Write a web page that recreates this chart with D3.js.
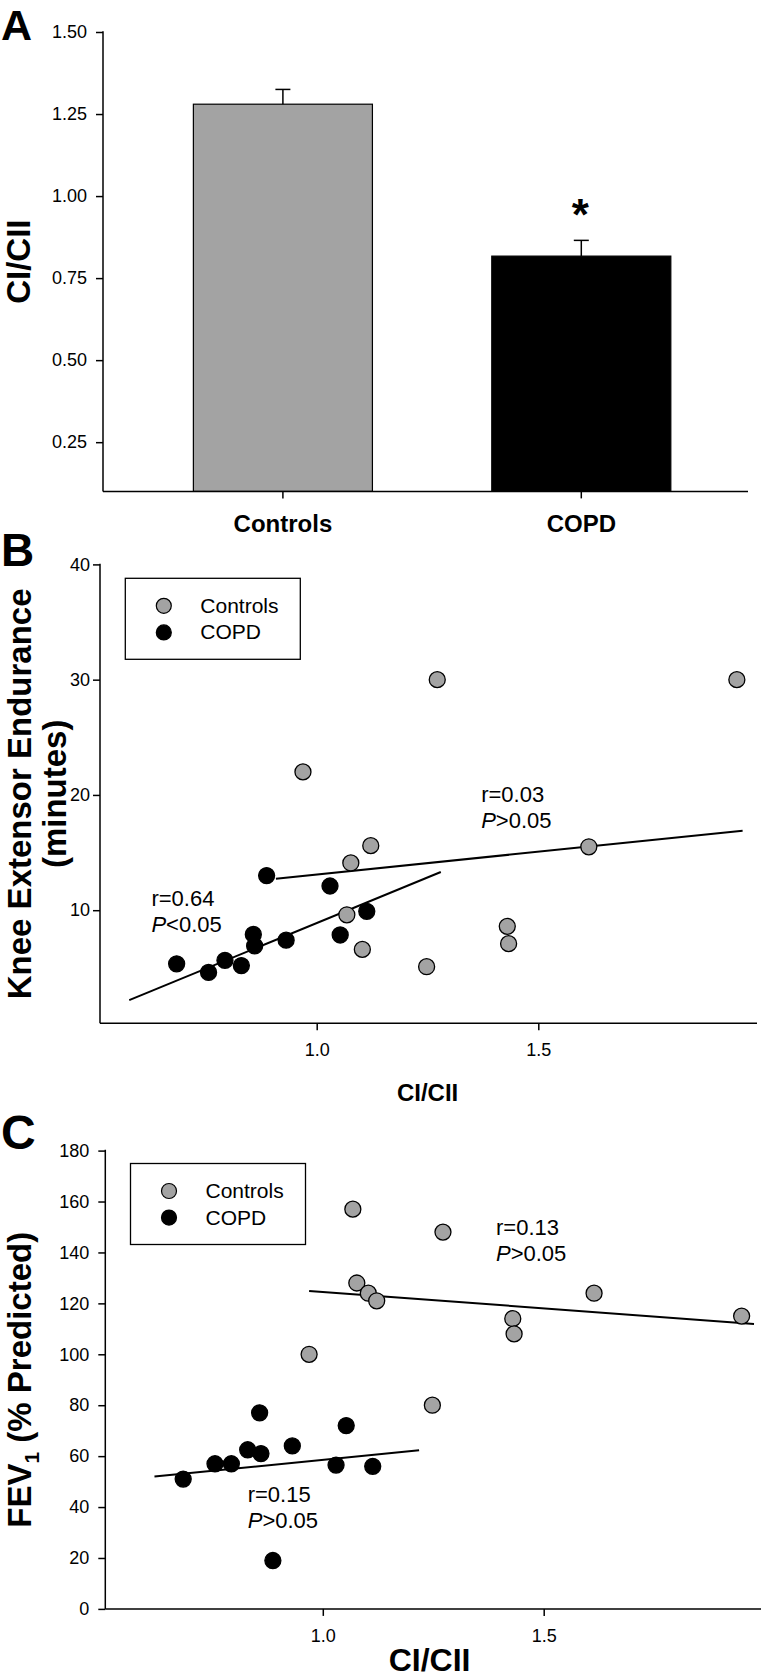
<!DOCTYPE html>
<html><head><meta charset="utf-8">
<script src="https://cdn.jsdelivr.net/npm/d3@7"></script>
<style>
body{margin:0;background:#fff}
svg{display:block}
text{font-family:"Liberation Sans",Arial,Helvetica,sans-serif;fill:#000}
</style>
</head><body>
<svg id="chart" width="761" height="1679"></svg>
<script>
// ---------- Panel A data ----------
const groups = ["Controls", "COPD"];
const ciMean = [1.28, 0.817];
const ciSE = [0.045, 0.048];
const ciTicks = [0.25, 0.50, 0.75, 1.00, 1.25, 1.50];

// ---------- Panels B & C data ----------
const ctrlCI        = [0.969, 1.068, 1.077, 1.103, 1.122, 1.248, 1.272, 1.430, 1.433, 1.614, 1.948];
const ctrlEndurance = [22.0, 9.6, 14.1, 6.6, 15.6, 5.1, 30.0, 8.6, 7.1, 15.5, 30.0];
const ctrlFEV1      = [100, 157, 128, 124, 121, 80, 148, 114, 108, 124, 115];

const copdCI        = [0.684, 0.756, 0.793, 0.830, 0.857, 0.860, 0.887, 0.931, 1.030, 1.053, 1.113];
const copdEndurance = [5.35, 4.6, 5.65, 5.2, 7.9, 6.9, 13.0, 7.4, 12.1, 7.85, 9.9];
const copdFEV1      = [51, 57, 57, 62.5, 77, 61, 19, 64, 56.5, 72, 56];

// fitted lines as drawn (end points)
const fitEndCtrlX = [0.908, 1.961], fitEndCtrlY = [12.73, 16.90];
const fitEndCopdX = [0.577, 1.280], fitEndCopdY = [2.2, 13.31];
const fitFevCtrlX = [0.969, 1.976], fitFevCtrlY = [124.9, 111.9];
const fitFevCopdX = [0.619, 1.218], fitFevCopdY = [52.0, 62.3];

const enduranceTicks = [10, 20, 30, 40];
const fevTicks = [0, 20, 40, 60, 80, 100, 120, 140, 160, 180];
const ratioTicks = [1.0, 1.5];

const statsEnd = [
  {r: "r=0.03", p: ">0.05", x: 1.371, y: 19.4},
  {r: "r=0.64", p: "<0.05", x: 0.627, y: 10.35}
];
const statsFev = [
  {r: "r=0.13", p: ">0.05", x: 1.392, y: 146.9},
  {r: "r=0.15", p: ">0.05", x: 0.83, y: 41.8}
];

const GRAY = "#a3a3a3";
const svg = d3.select("#chart");

function panelLetter(t, x, y, size) {
  svg.append("text").attr("x", x).attr("y", y).attr("font-size", size)
    .attr("font-weight", "bold").text(t);
}

// ================= Panel A =================
(function () {
  const x0 = 103, x1 = 748, yTop = 32, yBot = 491.4;
  const y = d3.scaleLinear().domain([0.1, 1.5]).range([yBot, yTop]);
  const x = d3.scaleBand().domain(groups).range([133.7, 730.5])
    .paddingInner(0.4).paddingOuter(0.2);
  const g = svg.append("g");

  g.selectAll("rect.bar").data(groups).join("rect")
    .attr("x", d => x(d)).attr("width", x.bandwidth())
    .attr("y", (d, i) => y(ciMean[i])).attr("height", (d, i) => yBot - y(ciMean[i]))
    .attr("fill", (d, i) => i === 0 ? GRAY : "#000")
    .attr("stroke", "#000").attr("stroke-width", 1.2);

  // error bars (upper only)
  groups.forEach((d, i) => {
    const cx = x(d) + x.bandwidth() / 2;
    g.append("line").attr("x1", cx).attr("x2", cx)
      .attr("y1", y(ciMean[i])).attr("y2", y(ciMean[i] + ciSE[i]))
      .attr("stroke", "#000").attr("stroke-width", 1.5);
    g.append("line").attr("x1", cx - 7.5).attr("x2", cx + 7.5)
      .attr("y1", y(ciMean[i] + ciSE[i])).attr("y2", y(ciMean[i] + ciSE[i]))
      .attr("stroke", "#000").attr("stroke-width", 1.5);
  });

  // asterisk above COPD error bar
  g.append("text").attr("x", x("COPD") + x.bandwidth() / 2 - 1).attr("y", y(ciMean[1] + ciSE[1]) - 10)
    .attr("text-anchor", "middle").attr("font-size", 44).attr("font-weight", "bold").text("*");

  // y axis
  const ya = d3.axisLeft(y).tickValues(ciTicks).tickFormat(d3.format(".2f"))
    .tickSize(7).tickPadding(9);
  const yg = g.append("g").attr("transform", `translate(${x0},0)`).call(ya);
  yg.select(".domain").remove();
  yg.selectAll("text").attr("font-size", 18).attr("font-family", null);
  yg.selectAll("line").attr("stroke-width", 1.5);
  g.append("line").attr("x1", x0).attr("x2", x0).attr("y1", yTop - 0.75).attr("y2", yBot)
    .attr("stroke", "#000").attr("stroke-width", 1.5);
  g.append("line").attr("x1", x0).attr("x2", x1).attr("y1", yBot).attr("y2", yBot)
    .attr("stroke", "#000").attr("stroke-width", 1.5);
  // x ticks
  groups.forEach(d => {
    const cx = x(d) + x.bandwidth() / 2;
    g.append("line").attr("x1", cx).attr("x2", cx).attr("y1", yBot).attr("y2", yBot + 7)
      .attr("stroke", "#000").attr("stroke-width", 1.5);
    g.append("text").attr("x", cx).attr("y", 532).attr("text-anchor", "middle")
      .attr("font-size", 24).attr("font-weight", "bold").text(d);
  });
  // y label
  g.append("text").attr("transform", `translate(30,${(yTop + yBot) / 2}) rotate(-90)`)
    .attr("text-anchor", "middle").attr("font-size", 33).attr("font-weight", "bold").text("CI/CII");
  panelLetter("A", 1, 40, 43);
})();

// ================= Scatter panels =================
function scatter(opt) {
  const g = svg.append("g");
  const x = d3.scaleLinear().domain([1.0, 1.5]).range(opt.xr);
  const y = d3.scaleLinear().domain(opt.yd).range(opt.yr);
  const xL = opt.axisX, xR = opt.axisXEnd, yB = opt.axisY, yT = y(opt.yTicks[opt.yTicks.length - 1]);

  // axes
  const ya = d3.axisLeft(y).tickValues(opt.yTicks).tickFormat(d3.format("d"))
    .tickSize(7).tickPadding(opt.yPad);
  const yg = g.append("g").attr("transform", `translate(${xL},0)`).call(ya);
  yg.select(".domain").remove();
  yg.selectAll("text").attr("font-size", 18).attr("font-family", null);
  yg.selectAll("line").attr("stroke-width", 1.5);
  const xa = d3.axisBottom(x).tickValues(ratioTicks).tickFormat(d3.format(".1f"))
    .tickSize(7).tickPadding(opt.xPad);
  const xg = g.append("g").attr("transform", `translate(0,${yB})`).call(xa);
  xg.select(".domain").remove();
  xg.selectAll("text").attr("font-size", 18).attr("font-family", null);
  xg.selectAll("line").attr("stroke-width", 1.5);
  g.append("line").attr("x1", xL).attr("x2", xL).attr("y1", yT - 0.75).attr("y2", yB)
    .attr("stroke", "#000").attr("stroke-width", 1.5);
  g.append("line").attr("x1", xL).attr("x2", xR).attr("y1", yB).attr("y2", yB)
    .attr("stroke", "#000").attr("stroke-width", 1.5);

  // fitted lines
  const line = d3.line().x(d => x(d[0])).y(d => y(d[1]));
  opt.fits.forEach(f => {
    g.append("path").attr("d", line(d3.zip(f[0], f[1])))
      .attr("stroke", "#000").attr("stroke-width", 2).attr("fill", "none");
  });

  // points
  const pts = (xs, ys, fill) => g.append("g").selectAll("circle").data(d3.zip(xs, ys)).join("circle")
    .attr("cx", d => x(d[0])).attr("cy", d => y(d[1])).attr("r", 8)
    .attr("fill", fill).attr("stroke", "#000").attr("stroke-width", 1.3);
  pts(opt.ctrl[0], opt.ctrl[1], GRAY);
  pts(opt.copd[0], opt.copd[1], "#000");

  // stats text
  opt.stats.forEach(s => {
    g.append("text").attr("x", x(s.x)).attr("y", y(s.y)).attr("font-size", 22).text(s.r);
    const t2 = g.append("text").attr("x", x(s.x)).attr("y", y(s.y) + 26).attr("font-size", 22);
    t2.append("tspan").attr("font-style", "italic").text("P");
    t2.append("tspan").text(s.p);
  });

  // legend
  const L = opt.legend;
  g.append("rect").attr("x", L.x).attr("y", L.y).attr("width", 175).attr("height", 81)
    .attr("fill", "#fff").attr("stroke", "#000").attr("stroke-width", 1.3);
  [["Controls", GRAY], ["COPD", "#000"]].forEach((d, i) => {
    const cy = L.y + 27.5 + i * 26.6;
    g.append("circle").attr("cx", L.x + 38.5).attr("cy", cy).attr("r", 7.5)
      .attr("fill", d[1]).attr("stroke", "#000").attr("stroke-width", 1.2);
    g.append("text").attr("x", L.x + 75).attr("y", cy + 7).attr("font-size", 21).text(d[0]);
  });

  return {g, x, y};
}

// Panel B
(function () {
  scatter({
    xr: [316.7, 538.3], yd: [10, 40], yr: [910.2, 564.4],
    axisX: 100, axisXEnd: 757, axisY: 1023.3, yTicks: enduranceTicks, yPad: 3, xPad: 13,
    fits: [[fitEndCtrlX, fitEndCtrlY], [fitEndCopdX, fitEndCopdY]],
    ctrl: [ctrlCI, ctrlEndurance], copd: [copdCI, copdEndurance],
    stats: statsEnd, legend: {x: 125.3, y: 578.3}
  });
  const mid = (564.4 + 1023.3) / 2;
  svg.append("text").attr("transform", `translate(30.5,${mid}) rotate(-90)`)
    .attr("text-anchor", "middle").attr("font-size", 33).attr("font-weight", "bold")
    .text("Knee Extensor Endurance");
  svg.append("text").attr("transform", `translate(66,${mid}) rotate(-90)`)
    .attr("text-anchor", "middle").attr("font-size", 33).attr("font-weight", "bold")
    .text("(minutes)");
  svg.append("text").attr("x", 427.6).attr("y", 1101).attr("text-anchor", "middle")
    .attr("font-size", 24).attr("font-weight", "bold").text("CI/CII");
  panelLetter("B", 1, 566, 46);
})();

// Panel C
(function () {
  scatter({
    xr: [322.8, 543.7], yd: [0, 180], yr: [1608.9, 1150.6],
    axisX: 105.3, axisXEnd: 761, axisY: 1608.9, yTicks: fevTicks, yPad: 9, xPad: 13.5,
    fits: [[fitFevCtrlX, fitFevCtrlY], [fitFevCopdX, fitFevCopdY]],
    ctrl: [ctrlCI, ctrlFEV1], copd: [copdCI, copdFEV1],
    stats: statsFev, legend: {x: 130.5, y: 1163.5}
  });
  const mid = (1150.6 + 1608.9) / 2;
  const t = svg.append("text").attr("transform", `translate(31,${mid}) rotate(-90)`)
    .attr("text-anchor", "middle").attr("font-size", 33).attr("font-weight", "bold");
  t.append("tspan").text("FEV");
  t.append("tspan").attr("font-size", 21).attr("dy", 8).text("1");
  t.append("tspan").attr("dy", -8).text(" (% Predicted)");
  svg.append("text").attr("x", 429.6).attr("y", 1671).attr("text-anchor", "middle")
    .attr("font-size", 32).attr("font-weight", "bold").text("CI/CII");
  panelLetter("C", 1, 1149, 48);
})();
</script>
</body></html>
